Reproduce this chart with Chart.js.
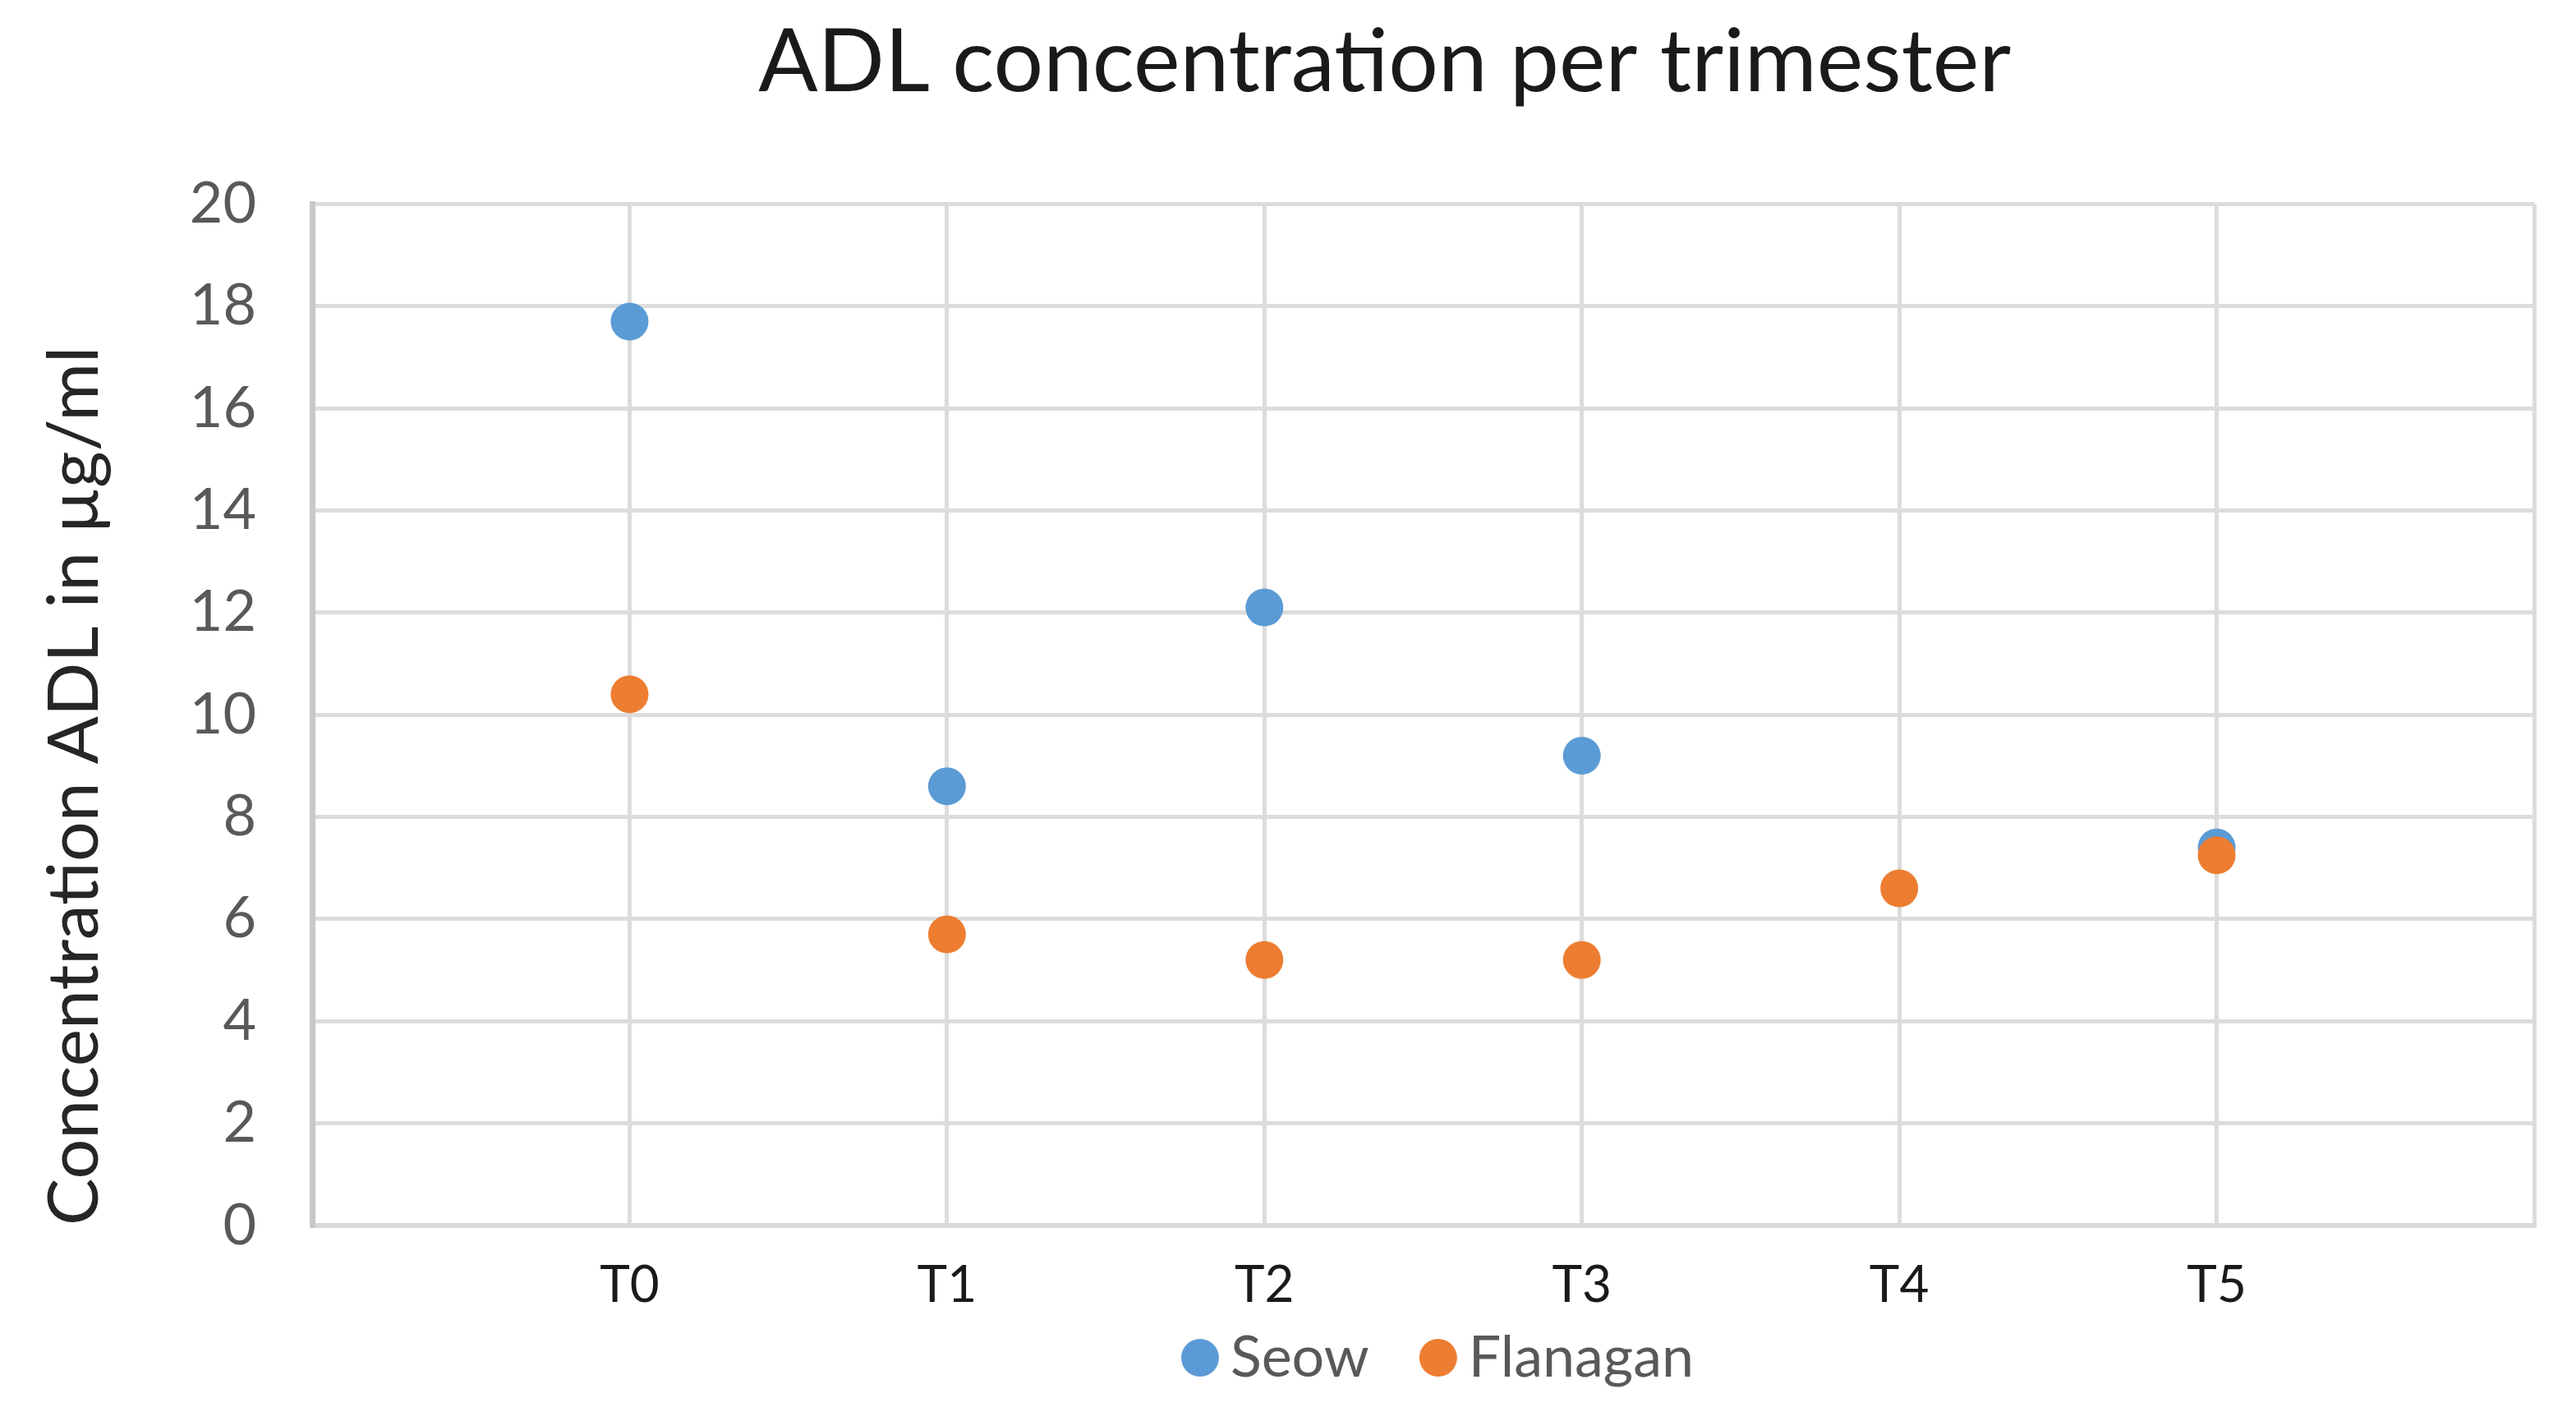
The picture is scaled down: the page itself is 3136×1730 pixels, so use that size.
<!DOCTYPE html>
<html>
<head>
<meta charset="utf-8">
<title>ADL concentration per trimester</title>
<script src="https://cdn.jsdelivr.net/npm/chart.js@4/dist/chart.umd.min.js"></script>
<style>
  html, body { margin: 0; padding: 0; background: #fff; overflow: hidden; }
  #wrap { width: 3136px; height: 1730px; }
</style>
</head>
<body>
<div id="wrap"><canvas id="adlChart"></canvas></div>
<script>
// Datos del gráfico
const categories = ['T0', 'T1', 'T2', 'T3', 'T4', 'T5'];
const seowValues = [17.7, 8.6, 12.1, 9.2, null, 7.4];
const flanaganValues = [10.4, 5.7, 5.2, 5.2, 6.6, 7.25];
const yTicks = [0, 2, 4, 6, 8, 10, 12, 14, 16, 18, 20];

// Convertir a puntos {x, y} usando el índice de la categoría
function toPoints(values) {
    return values.map((v, i) => ({ x: i, y: v }));
}

// Marcador de leyenda: círculo desplazado a la derecha dentro de un lienzo transparente
function legendMarker(color) {
    const r = 23, shift = 28;
    const c = document.createElement('canvas');
    c.width = 2 * (shift + r + 2);
    c.height = 2 * (r + 2);
    const g = c.getContext('2d');
    g.fillStyle = color;
    g.beginPath();
    g.arc(c.width / 2 + shift, c.height / 2, r, 0, Math.PI * 2);
    g.fill();
    return c;
}

const FONT = 'Lato';

const ctx = document.getElementById('adlChart').getContext('2d');
const chart = new Chart(ctx, {
    type: 'scatter',
    data: {
        datasets: [
            {
                label: 'Seow',
                data: toPoints(seowValues),
                backgroundColor: '#5B9BD5',
                borderWidth: 0,
                pointRadius: 23,
                pointHoverRadius: 23,
                order: 2
            },
            {
                label: 'Flanagan',
                data: toPoints(flanaganValues),
                backgroundColor: '#ED7D31',
                borderWidth: 0,
                pointRadius: 23,
                pointHoverRadius: 23,
                order: 1   // naranja encima del azul
            }
        ]
    },
    options: {
        responsive: true,
        maintainAspectRatio: false,
        animation: false,
        events: [],
        layout: {
            padding: { left: 20, right: 51, top: 0, bottom: 32 }
        },
        plugins: {
            title: {
                display: true,
                text: 'ADL concentration per trimester\u2003\u2009',
                fullSize: false,
                color: '#1a1a1a',
                font: { family: FONT, size: 107, weight: 'normal' },
                padding: { top: 12, bottom: 108 }
            },
            legend: {
                position: 'bottom',
                fullSize: false,
                labels: {
                    usePointStyle: true,
                    boxWidth: 60,
                    boxHeight: 33,
                    padding: 26,
                    color: '#595959',
                    font: { family: FONT, size: 70 },
                    sort: (a, b) => a.datasetIndex - b.datasetIndex,
                    generateLabels: c => {
                        const items = Chart.defaults.plugins.legend.labels.generateLabels(c);
                        items.forEach(item => {
                            item.pointStyle = legendMarker(item.fillStyle);
                        });
                        return items;
                    }
                }
            },
            tooltip: { enabled: false }
        },
        scales: {
            x: {
                type: 'linear',
                min: -1,
                max: categories.length,
                afterBuildTicks: scale => {
                    scale.ticks = [];
                    for (let i = -1; i <= categories.length; i++) scale.ticks.push({ value: i });
                },
                afterFit: scale => { scale.height = 100; },
                ticks: {
                    padding: 36,
                    color: '#1a1a1a',
                    font: { family: FONT, size: 62 },
                    callback: value => categories[value] ?? ''
                },
                grid: { color: '#dcdcdc', lineWidth: 5, drawTicks: false },
                border: { color: '#d9d9d9', width: 6 }
            },
            y: {
                min: 0,
                max: 20,
                afterBuildTicks: scale => {
                    scale.ticks = yTicks.map(v => ({ value: v }));
                },
                afterFit: scale => { scale.width = 360; },
                ticks: {
                    padding: 68,
                    color: '#595959',
                    font: { family: FONT, size: 70 }
                },
                grid: { color: '#dcdcdc', lineWidth: 5, drawTicks: false },
                border: { color: '#c8c8c8', width: 7 },
                title: {
                    display: true,
                    text: 'Concentration ADL in µg/ml',
                    align: 'start',
                    color: '#262626',
                    font: { family: FONT, size: 86 },
                    padding: { top: 20, bottom: 0 }
                }
            }
        }
    }
});
</script>
</body>
</html>
